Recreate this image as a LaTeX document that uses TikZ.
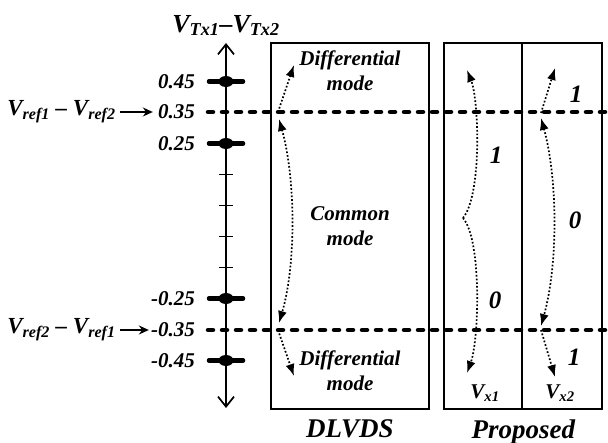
\documentclass[tikz,border=0pt]{standalone}
\usepackage{fontspec}
\setmainfont{Liberation Serif}
\usetikzlibrary{arrows.meta, positioning}

\newcommand{\volt}[1]{V\textsubscript{#1}}

\begin{document}
\begin{tikzpicture}[
    x=1pt, y=-1pt,
    font=\fontsize{21}{25}\selectfont\bfseries\itshape,
    val/.style={inner sep=0pt, font=\fontsize{21}{25}\selectfont\bfseries\itshape},
    reflabel/.style={inner sep=0pt, font=\fontsize{23}{25}\selectfont\bfseries\itshape},
    digit/.style={inner sep=0pt, font=\fontsize{25}{28}\selectfont\bfseries\itshape},
    modebox/.style={draw, line width=2.5pt, minimum height=366pt, inner sep=0pt},
    modetext/.style={align=center, inner sep=0pt},
    caption/.style={inner sep=0pt, font=\fontsize{27}{30}\selectfont\bfseries\itshape},
    bigtick/.style={line width=4.5pt, line cap=round},
    smalltick/.style={line width=1.2pt},
    refline/.style={line width=4.5pt, line cap=round, dash pattern=on 5pt off 9pt},
    flow/.style={dotted, line width=1.7pt, -{Latex[length=12pt,width=9pt]}},
    flowboth/.style={dotted, line width=1.7pt, {Latex[length=12pt,width=9pt]}-{Latex[length=12pt,width=9pt]}},
    pointer/.style={line width=1.6pt, -{Stealth[length=10pt,width=9pt]}}
]
  \useasboundingbox (0,0) rectangle (608,443);

  % axis
  \coordinate (axtop) at (226,43);
  \coordinate (axbot) at (226,408);
  \draw[line width=1.7pt, {Straight Barb[length=10pt,width=16pt]}-{Straight Barb[length=10pt,width=16pt]}] (axbot) -- (axtop);
  \node[above=7pt of axtop, inner sep=0pt, font=\fontsize{26}{28}\selectfont\bfseries\itshape] (title) {\volt{Tx1}--\volt{Tx2}};

  \foreach \v/\n in {0.45/a, 0.25/b, -0.25/c, -0.45/d} {
    \coordinate (tick\n) at (226,{221-(\v)*310});
    \draw[bigtick] ([xshift=-17pt]tick\n) -- ([xshift=17pt]tick\n);
    \fill (tick\n) ellipse (7.5pt and 5.5pt);
    \node[val, left=31pt of tick\n] (val\n) {\v};
  }
  \foreach \v in {0.15, 0.05, -0.05, -0.15}
    \draw[smalltick] (219,{221-(\v)*310}) -- (233,{221-(\v)*310});

  % reference levels
  \coordinate (refhi) at (226,112);
  \coordinate (reflo) at (226,330);
  \coordinate (refhiend) at (608,112);
  \coordinate (refloend) at (608,330);
  \draw[refline] ([xshift=-18pt]refhi) -- (refhiend);
  \draw[refline] ([xshift=-18pt]reflo) -- (refloend);
  \node[val, left=31pt of refhi] (valhi) {0.35};
  \node[val, left=31pt of reflo] (vallo) {-0.35};
  \node[reflabel, left=42pt of valhi] (vrefhi) {\volt{ref1} -- \volt{ref2}};
  \node[reflabel, anchor=east] (vreflo) at (vrefhi.east |- vallo) {\volt{ref2} -- \volt{ref1}};
  \draw[pointer] ([xshift=4pt]vrefhi.east) -- ([xshift=-5pt]valhi.west);
  \draw[pointer] ([xshift=4pt]vreflo.east) -- ([xshift=-2pt]vallo.west);

  % boxes
  \node[modebox, minimum width=158pt] (dlvds) at (350,226) {};
  \node[modebox, minimum width=78pt] (colA) at (483,226) {};
  \node[modebox, minimum width=80pt] (colB) at (562,226) {};
  \node[caption, below=9pt of dlvds] (capA) {DLVDS};
  \node[caption, below=9pt of colA.south east] (capB) {Proposed};

  \node[modetext, below=9pt of dlvds.north] (diffhi) {Differential\\mode};
  \node[modetext] (common) at (dlvds.center) {Common\\mode};
  \node[modetext, above=19pt of dlvds.south] (difflo) {Differential\\mode};

  \node[digit] (oneA) at (496,155) {1};
  \node[digit] (zeroA) at (495,300) {0};
  \node[digit] (oneB) at (576,94) {1};
  \node[digit] (zeroB) at (575,220) {0};
  \node[digit] (oneC) at (574,357) {1};
  \node[val] (vxa) at (485,393) {\volt{x1}};
  \node[val] (vxb) at (560,393) {\volt{x2}};

  % transitions, DLVDS
  \coordinate (dhi) at (278,112);
  \coordinate (dlo) at (278,330);
  \coordinate (dup) at (294,65);
  \coordinate (ddn) at (294,376);
  \coordinate (dtop) at (279,119);
  \coordinate (dbot) at (279,323);
  \draw[flow] (dhi) -- (dup);
  \draw[flow] (dlo) -- (ddn);
  \draw[flowboth] (dtop) .. controls (296,180) and (296,265) .. (dbot);

  % transitions, proposed
  \coordinate (cusp) at (463,218);
  \coordinate (atop) at (467,70);
  \coordinate (abot) at (467,373);
  \draw[flow] (cusp) .. controls (482,195) and (479,100) .. (atop);
  \draw[flow] (cusp) .. controls (482,240) and (479,340) .. (abot);

  \coordinate (bhi) at (541,113);
  \coordinate (blo) at (541,330);
  \coordinate (bup) at (555,68);
  \coordinate (bdn) at (555,377);
  \coordinate (btop) at (541,118);
  \coordinate (bbot) at (541,326);
  \draw[flow] (bhi) -- (bup);
  \draw[flow] (blo) -- (bdn);
  \draw[flowboth] (btop) .. controls (558,180) and (558,265) .. (bbot);
\end{tikzpicture}
\end{document}
